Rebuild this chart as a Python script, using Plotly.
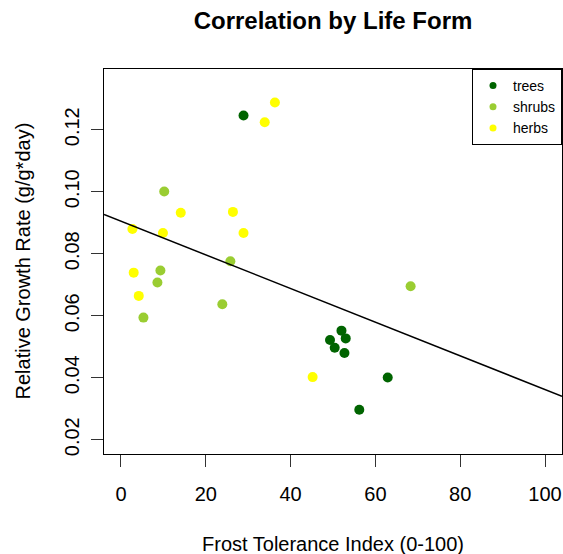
import plotly.graph_objects as go

# ---- data ----
trees_x = [28.9, 52.0, 53.0, 49.3, 50.4, 52.7, 62.9, 56.2]
trees_y = [0.1246, 0.0552, 0.0527, 0.0522, 0.0497, 0.0480, 0.0401, 0.0297]

shrubs_x = [10.2, 25.8, 9.3, 8.6, 5.3, 23.9, 68.3]
shrubs_y = [0.1001, 0.0776, 0.0746, 0.0707, 0.0594, 0.0637, 0.0695]

herbs_x = [36.3, 33.9, 14.1, 26.4, 2.7, 9.9, 28.9, 3.0, 4.2, 45.2]
herbs_y = [0.1288, 0.1224, 0.0932, 0.0935, 0.0880, 0.0867, 0.0867, 0.0739, 0.0664, 0.0402]

# fitted regression line
line_intercept = 0.0905
line_slope = -0.000543

x_ticks = [0, 20, 40, 60, 80, 100]
y_ticks = [0.02, 0.04, 0.06, 0.08, 0.10, 0.12]
y_tick_labels = ["0.02", "0.04", "0.06", "0.08", "0.10", "0.12"]

x_range = [-4, 104]
y_range = [0.0154, 0.1396]

groups = [
    ("trees", trees_x, trees_y, "#006400"),
    ("shrubs", shrubs_x, shrubs_y, "#9ACD32"),
    ("herbs", herbs_x, herbs_y, "#FFFF00"),
]

FONT = "Liberation Sans, Arial, Helvetica, sans-serif"

fig = go.Figure()

for name, xs, ys, col in groups:
    fig.add_trace(go.Scatter(
        x=xs, y=ys, mode="markers", name=name, showlegend=False,
        marker=dict(color=col, size=10, line=dict(width=0)),
    ))

# regression line across the full axis range
lx = [x_range[0], x_range[1]]
ly = [line_intercept + line_slope * v for v in lx]
fig.add_trace(go.Scatter(
    x=lx, y=ly, mode="lines", showlegend=False,
    line=dict(color="black", width=1.5),
))

# legend entries (smaller symbols, as in the reference)
for name, xs, ys, col in groups:
    fig.add_trace(go.Scatter(
        x=[None], y=[None], mode="markers", name=name,
        marker=dict(color=col, size=7),
    ))

W, H = 563, 554
L, R, T, B = 104, 1, 69, 100
pw = W - L - R
ph = H - T - B

fig.update_layout(
    width=W, height=H,
    margin=dict(l=L, r=R, t=T, b=B, pad=0),
    paper_bgcolor="white", plot_bgcolor="white",
    font=dict(family=FONT, size=20, color="black"),
    title=dict(
        text="<b>Correlation by Life Form</b>",
        font=dict(size=24, family=FONT, color="black"),
        x=(L + pw / 2) / W, xref="container", xanchor="center",
        y=1 - 21 / H, yref="container", yanchor="middle",
    ),
    showlegend=True,
    legend=dict(
        x=1, y=1, xanchor="right", yanchor="top",
        bordercolor="black", borderwidth=1, bgcolor="white",
        font=dict(size=14, family=FONT, color="black"),
        itemwidth=30, tracegroupgap=0,
    ),
    xaxis=dict(
        range=x_range, tickvals=x_ticks, ticks="outside", ticklen=12,
        tickcolor="#333", tickwidth=1, showgrid=False, zeroline=False,
        showline=True, mirror=True, linecolor="black", linewidth=1,
        tickfont=dict(size=20, family=FONT), ticklabelstandoff=10,
    ),
    yaxis=dict(
        range=y_range, tickvals=y_ticks, ticktext=y_tick_labels,
        ticks="outside", ticklen=12, tickangle=-90,
        tickcolor="#333", tickwidth=1, showgrid=False, zeroline=False,
        showline=True, mirror=True, linecolor="black", linewidth=1,
        tickfont=dict(size=20, family=FONT), ticklabelstandoff=4,
    ),
    annotations=[
        dict(text="Frost Tolerance Index (0-100)", xref="paper", yref="paper",
             x=0.5, y=-(544 - (H - B)) / ph, xanchor="center", yanchor="middle",
             showarrow=False, font=dict(size=20, family=FONT)),
        dict(text="Relative Growth Rate (g/g*day)", xref="paper", yref="paper",
             x=-(L - 22) / pw, y=0.5, xanchor="center", yanchor="middle",
             textangle=-90, showarrow=False, font=dict(size=20, family=FONT)),
    ],
)

fig.write_html("out.html")
